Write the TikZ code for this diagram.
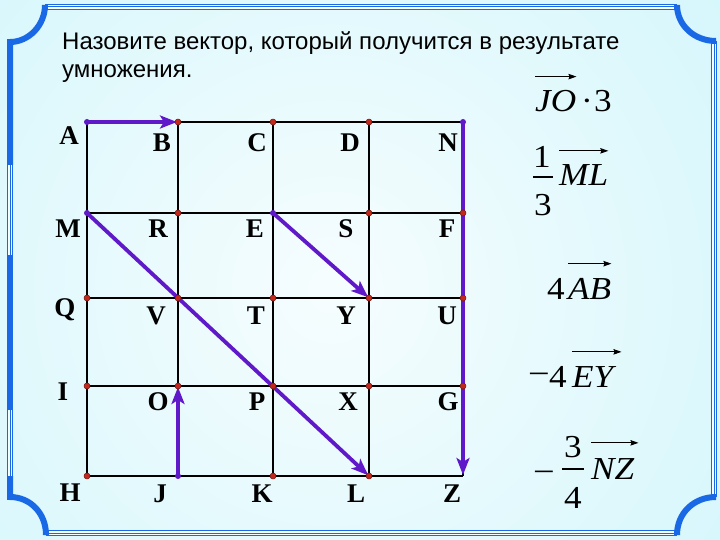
\documentclass[tikz,border=0pt]{standalone}
\usepackage{fontspec}
\setmainfont{Liberation Serif}
\newfontfamily\titlefont{Liberation Sans}
\usetikzlibrary{arrows.meta}
\definecolor{frameblue}{RGB}{25,105,230}
\definecolor{vecpurple}{RGB}{95,25,200}
\definecolor{dotred}{RGB}{195,40,30}
\definecolor{bgcyan}{RGB}{196,243,250}
\definecolor{bglight}{RGB}{246,253,254}
\newcommand\fstretch[1]{\scalebox{1.1}[1]{#1}}
\tikzset{
  tripleline/.style={draw=frameblue, line width=1pt,
    preaction={draw=frameblue, line width=6pt},
    preaction={draw=bglight, line width=4pt}},
  thickframe/.style={draw=frameblue, line width=6pt},
  gridline/.style={draw=black, line width=1.1pt},
  vec/.style={draw=vecpurple, line width=3.8pt,
    -{Stealth[length=17pt,width=13pt,inset=4pt]}, shorten >=1pt},
  gdot/.style={circle, fill=dotred, draw=dotred!60!black, line width=0.5pt, inner sep=0pt, minimum size=6pt},
  sdot/.style={circle, fill=vecpurple, inner sep=0pt, minimum size=6pt},
  lbl/.style={font=\fontsize{27}{30}\selectfont\bfseries, inner sep=0pt, anchor=base},
  titletext/.style={font=\titlefont\fontsize{24}{28}\selectfont, inner sep=0pt, anchor=base west},
  formula/.style={font=\fontsize{32}{36}\selectfont, inner sep=0pt, anchor=base west},
  fracbar/.style={draw=black, line width=1.3pt},
  ovarrow/.style={draw=black, line width=0.9pt, -{Stealth[length=8pt,width=5.5pt,inset=1pt]}}
}
\begin{document}
\begin{tikzpicture}[x=1pt,y=-1pt]
\useasboundingbox (0,0) rectangle (720,540);
% background
\begin{scope}
  \clip (0,0) rectangle (720,540);
  \fill[bgcyan] (0,0) rectangle (720,540);
  \shade[inner color=bglight, outer color=bgcyan] (330,290) circle (760);
\end{scope}
% frame
\path[tripleline] (45,7) -- (677,7);
\path[tripleline] (714,41) -- (714,497);
\path[tripleline] (46,533) -- (677,533);
\path[tripleline] (10,160) -- (10,260);
\path[tripleline] (10,405) -- (10,480);
\path[thickframe] (45,5) .. controls (45,25) and (29,42) .. (10,42) -- (10,165);
\path[thickframe] (10,255) -- (10,410);
\path[thickframe] (10,476) -- (10,497) .. controls (30,497) and (46,513) .. (46,535);
\path[thickframe] (677,535) .. controls (677,513) and (694,497) .. (716,497);
\path[thickframe] (677,5) .. controls (677,25) and (694,41) .. (716,41);
% title
\node[titletext] (title1) at (62,50) {Назовите вектор, который получится в результате};
\node[titletext] (title2) at (62,78) {умножения.};
% grid points
\coordinate (A) at (87,122);  \coordinate (B) at (178,122); \coordinate (C) at (273,122); \coordinate (D) at (369,122); \coordinate (N) at (463,122);
\coordinate (M) at (87,213);  \coordinate (R) at (178,213); \coordinate (E) at (273,213); \coordinate (S) at (369,213); \coordinate (F) at (463,213);
\coordinate (Q) at (87,298);  \coordinate (V) at (178,298); \coordinate (T) at (273,298); \coordinate (Y) at (369,298); \coordinate (U) at (463,298);
\coordinate (I) at (87,386);  \coordinate (O) at (178,386); \coordinate (P) at (273,386); \coordinate (X) at (369,386); \coordinate (G) at (463,386);
\coordinate (H) at (87,476);  \coordinate (J) at (178,476); \coordinate (K) at (273,476); \coordinate (L) at (369,476); \coordinate (Z) at (463,476);
% grid lines
\draw[gridline] (A) -- (N); \draw[gridline] (M) -- (F); \draw[gridline] (Q) -- (U);
\draw[gridline] (I) -- (G); \draw[gridline] (H) -- (Z);
\draw[gridline] (A) -- (H); \draw[gridline] (B) -- (J); \draw[gridline] (C) -- (K);
\draw[gridline] (D) -- (L); \draw[gridline] (N) -- (Z);
% vectors
\draw[vec] (A) -- (B);
\draw[vec] (M) -- (L);
\draw[vec] (E) -- (Y);
\draw[vec] (J) -- (O);
\draw[vec] (N) -- (Z);
% dots
\foreach \p in {B,C,D,R,S,F,Q,V,T,Y,U,I,O,P,X,G,H,K,L} {\node[gdot] (d\p) at (\p) {};}
\foreach \p in {A,M,E,J,N} {\node[sdot] (s\p) at (\p) {};}
% labels
\node[lbl] (lA) at (69,145) {A}; \node[lbl] (lB) at (162,152) {B}; \node[lbl] (lC) at (257,152) {C}; \node[lbl] (lD) at (350,152) {D}; \node[lbl] (lN) at (448,152) {N};
\node[lbl] (lM) at (68,237) {M}; \node[lbl] (lR) at (158,237) {R}; \node[lbl] (lE) at (255,237) {E}; \node[lbl] (lS) at (346,237) {S}; \node[lbl] (lF) at (447,237) {F};
\node[lbl] (lQ) at (65,316) {Q}; \node[lbl] (lV) at (156,324) {V}; \node[lbl] (lT) at (256,324) {T}; \node[lbl] (lY) at (346,324) {Y}; \node[lbl] (lU) at (447,324) {U};
\node[lbl] (lI) at (63,400) {I}; \node[lbl] (lO) at (158,410) {O}; \node[lbl] (lP) at (257,410) {P}; \node[lbl] (lX) at (348,410) {X}; \node[lbl] (lG) at (448,410) {G};
\node[lbl] (lH) at (70,501) {H}; \node[lbl] (lJ) at (160,502) {J}; \node[lbl] (lK) at (262,502) {K}; \node[lbl] (lL) at (356,502) {L}; \node[lbl] (lZ) at (452,502) {Z};
% formula 1: JO . 3
\node[formula] (f1a) at (535,112) {\fstretch{\itshape JO}};
\node[formula, anchor=base] (f1b) at (587,112) {\fstretch{·}};
\node[formula] (f1c) at (594,112) {\fstretch{3}};
\draw[ovarrow] ([yshift=14pt]f1a.north west) -- ([yshift=14pt]f1a.north east);
% formula 2: 1/3 ML
\node[formula, anchor=base] (f2n) at (542,168) {\fstretch{1}};
\draw[fracbar] (533,177) -- (553,177);
\node[formula, anchor=base] (f2d) at (543,215) {\fstretch{3}};
\node[formula] (f2v) at (559,186) {\fstretch{\itshape ML}};
\draw[ovarrow] ([yshift=14pt]f2v.north west) -- ([yshift=14pt]f2v.north east);
% formula 3: 4 AB
\node[formula] (f3a) at (547,299) {\fstretch{4}};
\node[formula] (f3v) at (568,299) {\fstretch{\itshape AB}};
\draw[ovarrow] ([yshift=14pt]f3v.north west) -- ([yshift=14pt]f3v.north east);
% formula 4: -4 EY
\node[formula] (f4m) at (528,384) {\scalebox{1.2}[1]{−}};
\node[formula] (f4a) at (549,387) {\fstretch{4}};
\node[formula] (f4v) at (572,387) {\fstretch{\itshape EY}};
\draw[ovarrow] ([yshift=14pt]f4v.north west) -- ([xshift=8pt,yshift=14pt]f4v.north east);
% formula 5: -3/4 NZ
\node[formula] (f5m) at (533,482) {\scalebox{1.2}[1]{−}};
\node[formula, anchor=base] (f5n) at (573,457) {\fstretch{3}};
\draw[fracbar] (562,469) -- (584,469);
\node[formula, anchor=base] (f5d) at (573,508) {\fstretch{4}};
\node[formula] (f5v) at (591,479) {\fstretch{\itshape NZ}};
\draw[ovarrow] ([yshift=15pt]f5v.north west) -- ([xshift=4pt,yshift=15pt]f5v.north east);
\end{tikzpicture}
\end{document}
